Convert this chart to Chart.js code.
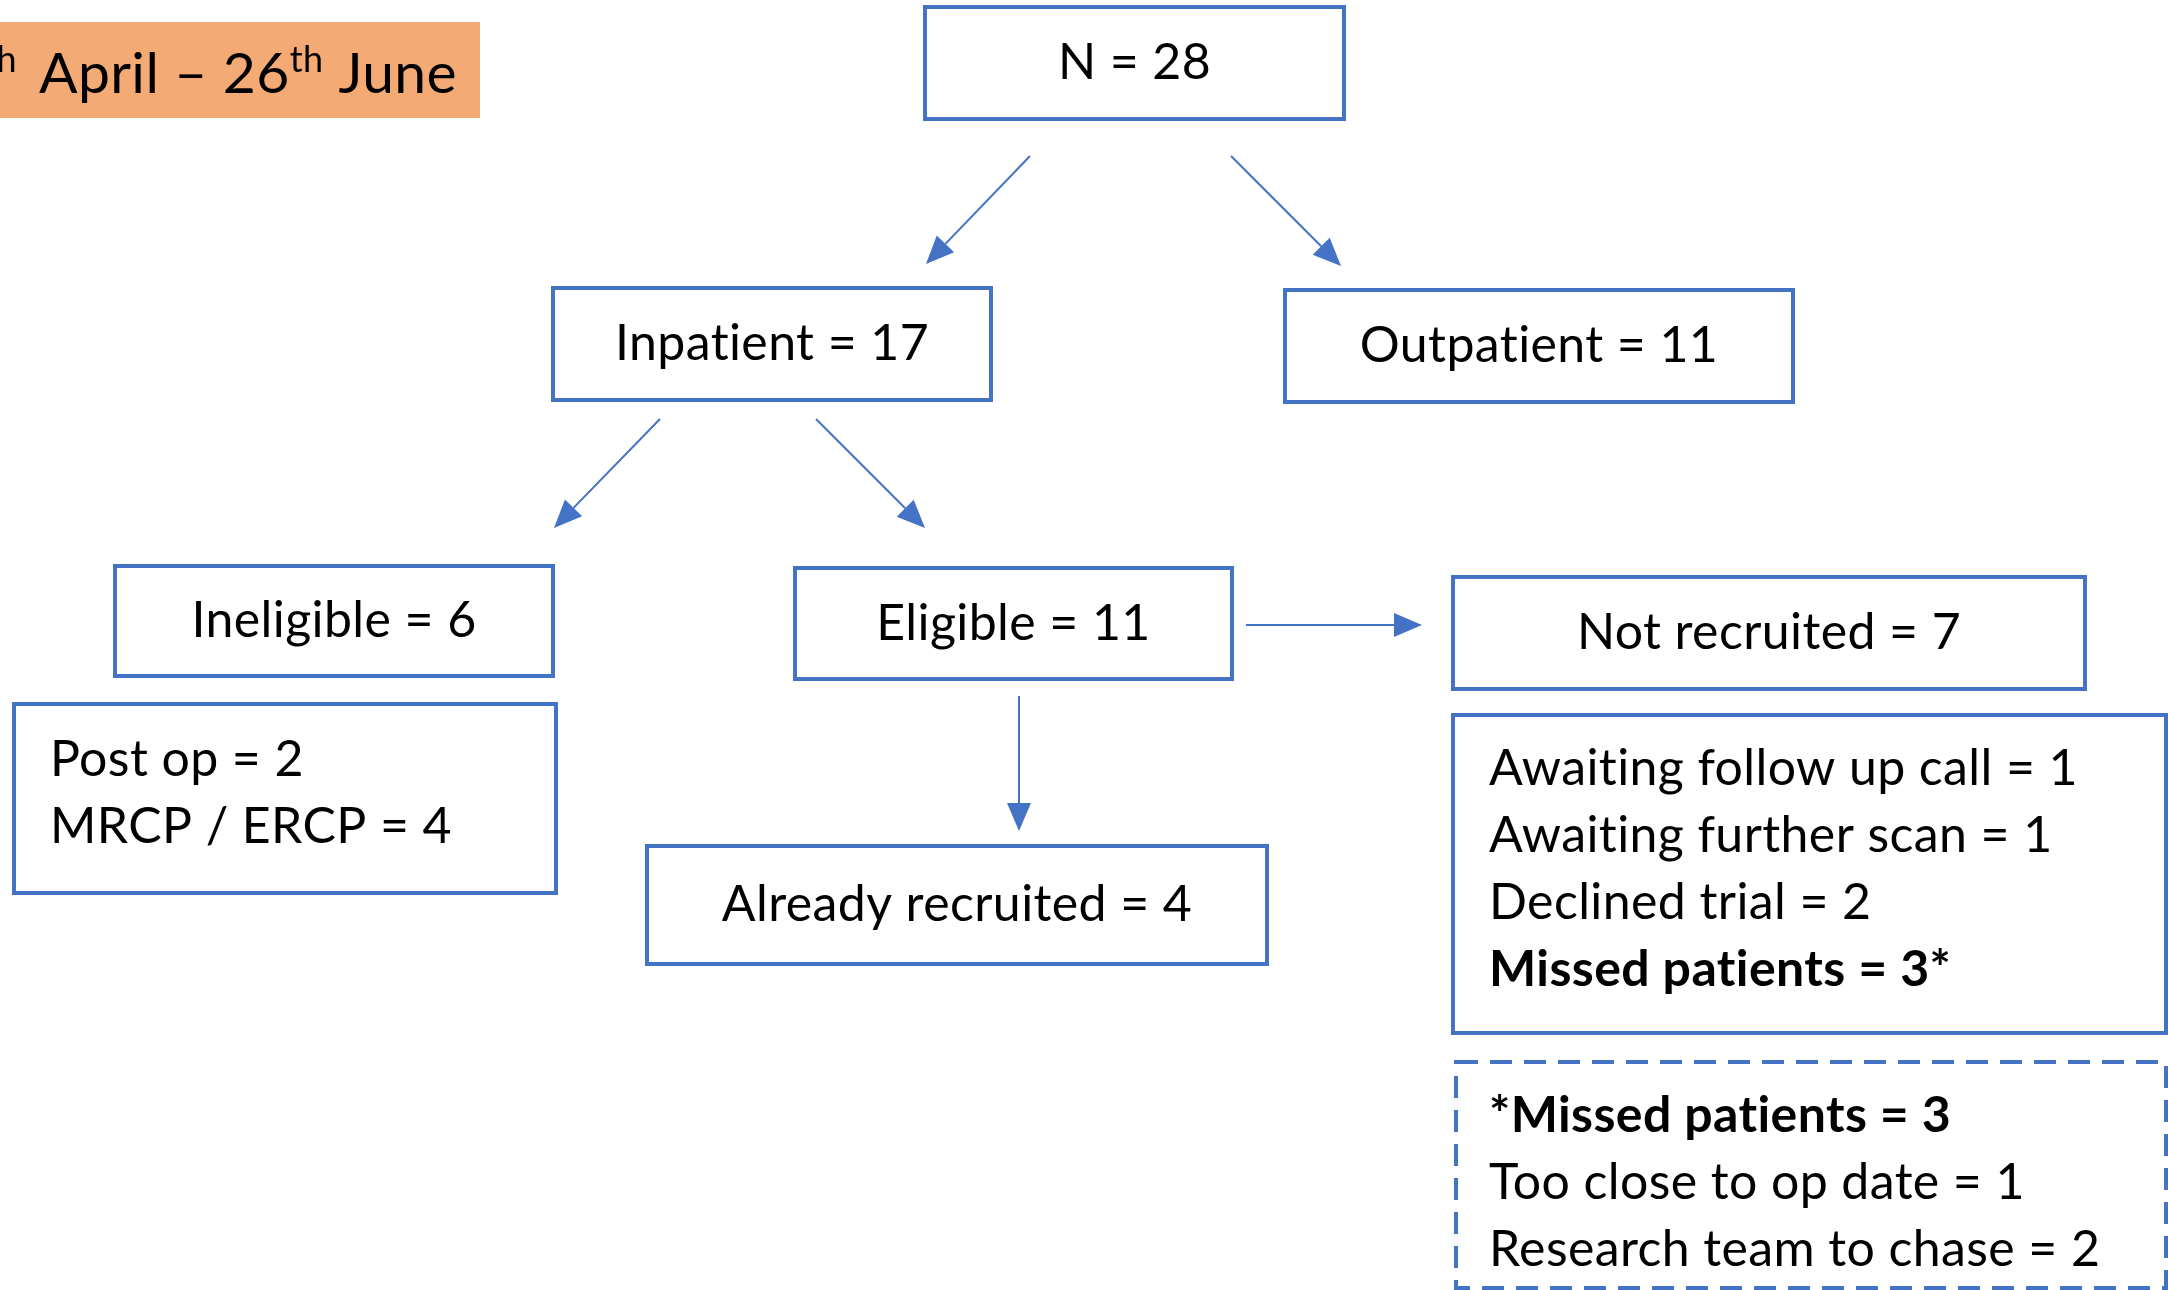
<!DOCTYPE html>
<html>
<head>
<meta charset="utf-8">
<script src="https://cdn.jsdelivr.net/npm/chart.js@4.4.1/dist/chart.umd.min.js"></script>
<style>
  html, body { margin: 0; padding: 0; background: #fff; overflow: hidden; }
  #flow { display: block; }
</style>
</head>
<body>
<canvas id="flow" width="2168" height="1290"></canvas>
<script>
// banner text, even parts are superscript
const periodLabel = ['th', 'April \u2013 26', 'th', ' June'];

const stageLabels = ['N', 'Inpatient', 'Outpatient', 'Ineligible', 'Eligible', 'Not recruited', 'Already recruited'];
const stageCounts = [28, 17, 11, 6, 11, 7, 4];

const ineligibleReasons = ['Post op', 'MRCP / ERCP'];
const ineligibleCounts = [2, 4];

const notRecruitedReasons = ['Awaiting follow up call', 'Awaiting further scan', 'Declined trial', 'Missed patients'];
const notRecruitedCounts = [1, 1, 2, 3];

const missedReasons = ['Too close to op date', 'Research team to chase'];
const missedCounts = [1, 2];

// layout in axis units (y grows downward)
const stageBoxes = [
  [925, 7, 1344, 119],
  [553, 288, 991, 400],
  [1285, 290, 1793, 402],
  [115, 566, 553, 676],
  [795, 568, 1232, 679],
  [1453, 577, 2085, 689],
  [647, 846, 1267, 964]
];
const bannerBox = [0, 22, 480, 118];
const ineligibleBox = [14, 704, 556, 893];
const notRecruitedBox = [1453, 715, 2166, 1033];
const missedBox = [1456, 1062, 2166, 1288];
const arrows = [
  [1030, 156, 926, 264],
  [1231, 156, 1341, 266],
  [660, 419, 554, 528],
  [816, 419, 925, 528],
  [1246, 625, 1422, 625],
  [1019, 696, 1019, 831]
];

const BLUE = '#4472C4';
const FONT = 'Lato, "Open Sans", sans-serif';
const SIZE = 50;

const flowPlugin = {
  id: 'flow',
  afterDraw(chart) {
    const ctx = chart.ctx;
    const sx = v => chart.scales.x.getPixelForValue(v);
    const sy = v => chart.scales.y.getPixelForValue(v);
    ctx.save();
    ctx.letterSpacing = '0.4px'; // also stops the Lato "ti" ligature

    function rect(b, dashed) {
      ctx.save();
      ctx.strokeStyle = BLUE;
      ctx.lineWidth = 4;
      if (dashed) ctx.setLineDash([22, 12]);
      ctx.strokeRect(sx(b[0]), sy(b[1]), sx(b[2]) - sx(b[0]), sy(b[3]) - sy(b[1]));
      ctx.restore();
    }

    // banner (first superscript is cut off by the left edge)
    const bb = bannerBox;
    ctx.fillStyle = '#F4AA74';
    ctx.fillRect(sx(bb[0]), sy(bb[1]), sx(bb[2]) - sx(bb[0]), sy(bb[3]) - sy(bb[1]));
    ctx.fillStyle = '#000';
    ctx.textBaseline = 'alphabetic';
    ctx.textAlign = 'left';
    const base = sy(93);
    const supFont = '36px ' + FONT, mainFont = '57px ' + FONT;
    ctx.font = supFont;
    ctx.fillText(periodLabel[0], sx(17) - ctx.measureText(periodLabel[0]).width, base - 21);
    let x = sx(39);
    periodLabel.slice(1).forEach((part, j) => {
      const sup = j % 2 === 1;
      ctx.font = sup ? supFont : mainFont;
      ctx.fillText(part, x, sup ? base - 21 : base);
      x += ctx.measureText(part).width;
    });

    // stage boxes
    stageBoxes.forEach((b, i) => {
      rect(b, false);
      ctx.font = SIZE + 'px ' + FONT;
      ctx.textAlign = 'center';
      ctx.textBaseline = 'middle';
      ctx.fillStyle = '#000';
      ctx.fillText(stageLabels[i] + ' = ' + stageCounts[i], sx((b[0] + b[2]) / 2), sy((b[1] + b[3]) / 2));
    });

    function list(box, lines, left, top, dashed) {
      rect(box, dashed);
      ctx.textAlign = 'left';
      ctx.textBaseline = 'middle';
      ctx.fillStyle = '#000';
      lines.forEach((ln, i) => {
        ctx.font = (ln.bold ? 'bold ' : '') + SIZE + 'px ' + FONT;
        ctx.fillText(ln.text, sx(left), sy(top + i * 67));
      });
    }

    list(ineligibleBox, ineligibleReasons.map((r, i) => ({ text: r + ' = ' + ineligibleCounts[i] })), 50, 760, false);
    list(notRecruitedBox, notRecruitedReasons.map((r, i) => ({
      text: r + ' = ' + notRecruitedCounts[i] + (r === 'Missed patients' ? '*' : ''),
      bold: r === 'Missed patients'
    })), 1489, 769, false);
    const missedTotal = missedCounts.reduce((a, c) => a + c, 0);
    list(missedBox, [{ text: '*Missed patients = ' + missedTotal, bold: true }]
      .concat(missedReasons.map((r, i) => ({ text: r + ' = ' + missedCounts[i] }))), 1489, 1116, true);

    // arrows
    arrows.forEach(a => {
      const x1 = sx(a[0]), y1 = sy(a[1]), x2 = sx(a[2]), y2 = sy(a[3]);
      const ang = Math.atan2(y2 - y1, x2 - x1);
      const len = 28, half = 12;
      ctx.save();
      ctx.strokeStyle = BLUE;
      ctx.fillStyle = BLUE;
      ctx.lineWidth = 2;
      ctx.beginPath();
      ctx.moveTo(x1, y1);
      ctx.lineTo(x2 - Math.cos(ang) * len, y2 - Math.sin(ang) * len);
      ctx.stroke();
      ctx.beginPath();
      ctx.moveTo(x2, y2);
      ctx.lineTo(x2 - Math.cos(ang) * len - Math.sin(ang) * half, y2 - Math.sin(ang) * len + Math.cos(ang) * half);
      ctx.lineTo(x2 - Math.cos(ang) * len + Math.sin(ang) * half, y2 - Math.sin(ang) * len - Math.cos(ang) * half);
      ctx.closePath();
      ctx.fill();
      ctx.restore();
    });
    ctx.restore();
  }
};

new Chart(document.getElementById('flow'), {
  type: 'scatter',
  data: {
    datasets: [{
      label: 'stages',
      data: stageBoxes.map((b, i) => ({ x: (b[0] + b[2]) / 2, y: (b[1] + b[3]) / 2, n: stageCounts[i] })),
      pointRadius: 0
    }]
  },
  options: {
    responsive: false,
    animation: false,
    layout: { padding: 0 },
    plugins: { legend: { display: false }, tooltip: { enabled: false } },
    scales: {
      x: { display: false, min: 0, max: 2168 },
      y: { display: false, min: 0, max: 1290, reverse: true }
    }
  },
  plugins: [flowPlugin]
});
</script>
</body>
</html>
